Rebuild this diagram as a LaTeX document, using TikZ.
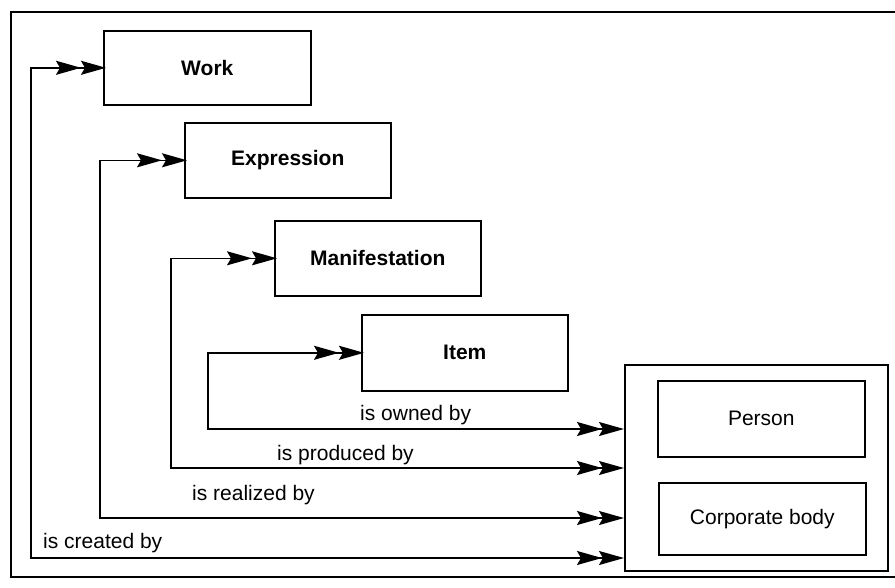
\documentclass[tikz,border=0pt]{standalone}
\usepackage{fontspec}
\setmainfont{Liberation Sans}
\usetikzlibrary{arrows.meta}
\begin{document}
\begin{tikzpicture}[x=1pt,y=-1pt,
  every node/.style={font=\fontsize{21}{25}\selectfont},
  entity/.style={draw, line width=1.6pt, inner sep=0pt, anchor=north west},
  label/.style={anchor=base west, inner sep=0pt},
  link/.style={line width=1.5pt,
    {Stealth[length=25pt,width=14pt,inset=4pt,sep=-3pt]Stealth[length=25pt,width=14pt,inset=4pt]}-{Stealth[length=25pt,width=14pt,inset=4pt,sep=-3pt]Stealth[length=25pt,width=14pt,inset=4pt]}}]
  % page and outer frame
  \useasboundingbox[fill=white] (0,0) rectangle (895,587);
  \draw[line width=1.5pt] (895,12) -- (11,12) -- (11,577) -- (895,577);

  % bibliographic entities
  \node[entity, minimum width=207, minimum height=74] (work) at (103,30) {\bfseries Work};
  \node[entity, minimum width=206, minimum height=75] (expr) at (184,122) {\bfseries Expression};
  \node[entity, minimum width=206, minimum height=75] (manif) at (274,220) {\bfseries Manifestation};
  \node[entity, minimum width=206, minimum height=76] (item) at (361,314) {\bfseries Item};

  % responsible parties
  \node[entity, minimum width=263, minimum height=206] (group) at (624,364) {};
  \node[entity, minimum width=207, minimum height=76] (person) at (657,380) {Person};
  \node[entity, minimum width=207, minimum height=72] (corp) at (658,482) {Corporate body};

  % bends and entry points of the relationship lines
  \coordinate (bendW) at (31,558);
  \coordinate (bendE) at (100,518);
  \coordinate (bendM) at (171,468);
  \coordinate (bendI) at (208,429);
  \coordinate (inW) at (group.west |- bendW);
  \coordinate (inE) at (group.west |- bendE);
  \coordinate (inM) at (group.west |- bendM);
  \coordinate (inI) at (group.west |- bendI);

  \draw[link] (work.west) -| (bendW) -- (inW);
  \draw[link] (expr.west) -| (bendE) -- (inE);
  \draw[link] (manif.west) -| (bendM) -- (inM);
  \draw[link] (item.west) -| (bendI) -- (inI);

  % relationship names
  \node[label] (lblI) at (360,420) {is owned by};
  \node[label] (lblM) at (277,460) {is produced by};
  \node[label] (lblE) at (192,500) {is realized by};
  \node[label] (lblW) at (43,548) {is created by};
\end{tikzpicture}
\end{document}
